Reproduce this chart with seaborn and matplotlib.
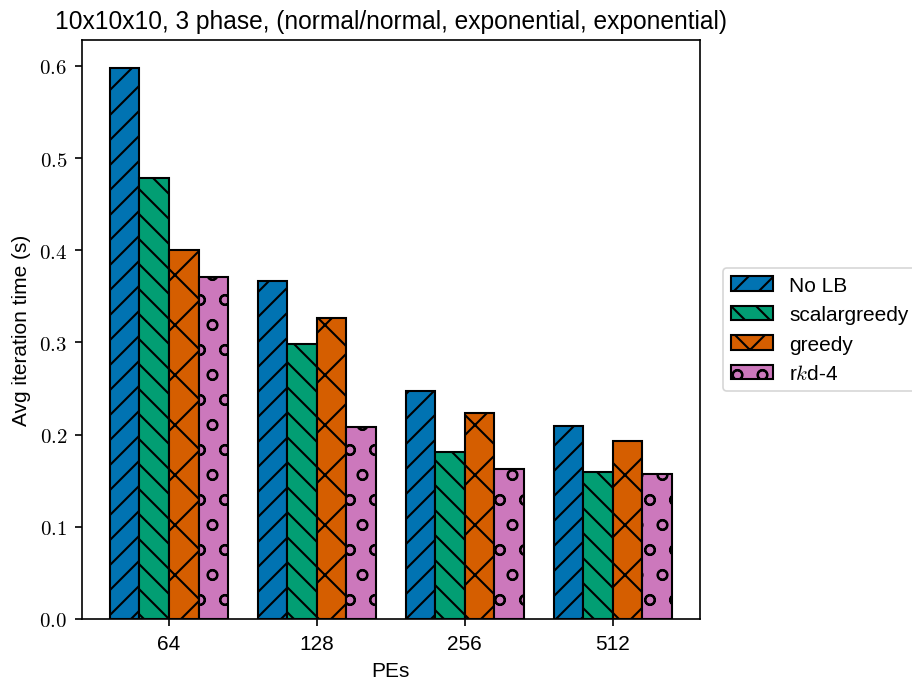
import matplotlib
matplotlib.use("Agg")
import matplotlib.pyplot as plt
from matplotlib.patches import Patch
from matplotlib.ticker import FuncFormatter
import seaborn as sns
import pandas as pd

# ---- data ----
pes = ["64", "128", "256", "512"]
methods = ["No LB", "scalargreedy", "greedy", "r$k$d-4"]
no_lb = [0.598, 0.367, 0.247, 0.209]
scalargreedy = [0.478, 0.298, 0.181, 0.159]
greedy = [0.400, 0.327, 0.223, 0.193]
rkd4 = [0.371, 0.208, 0.163, 0.157]
series = [no_lb, scalargreedy, greedy, rkd4]

rows = []
for m, vals in zip(methods, series):
    for p, v in zip(pes, vals):
        rows.append({"PEs": p, "time": v, "method": m})
df = pd.DataFrame(rows)

# ---- styling (figure rendered at 300 dpi, sizes halved) ----
s = 0.5
plt.rcParams["font.family"] = ["Liberation Sans", "DejaVu Sans"]
plt.rcParams["mathtext.fontset"] = "cm"
plt.rcParams["hatch.linewidth"] = 1.0 * s
plt.rcParams["axes.linewidth"] = 0.8 * s
plt.rcParams["xtick.major.size"] = 3.5 * s
plt.rcParams["ytick.major.size"] = 3.5 * s
plt.rcParams["xtick.major.width"] = 0.8 * s
plt.rcParams["ytick.major.width"] = 0.8 * s
plt.rcParams["xtick.major.pad"] = 3.5 * s
plt.rcParams["ytick.major.pad"] = 3.5 * s

cb = sns.color_palette("colorblind")
colors = [cb[0], cb[2], cb[3], cb[4]]
hatches = ["////", "\\\\\\\\", "xx", "oo"]

fig = plt.figure(figsize=(3.04, 2.28), dpi=300)
ax = fig.add_axes([0.0896, 0.0936, 0.7675 - 0.0896, 0.940 - 0.0936])

sns.barplot(data=df, x="PEs", y="time", hue="method", hue_order=methods,
            order=pes, palette=colors, saturation=1, width=0.8,
            edgecolor="black", linewidth=1.0 * s, ax=ax, legend=False)

for cont, h in zip(ax.containers, hatches):
    for bar in cont:
        bar.set_hatch(h)

ax.set_xlim(-0.59, 3.59)
ax.set_ylim(0, 0.628)
ax.set_yticks([0.0, 0.1, 0.2, 0.3, 0.4, 0.5, 0.6])
ax.yaxis.set_major_formatter(FuncFormatter(lambda v, p: f"${v:.1f}$"))
ax.tick_params(labelsize=10 * s, colors="black")

ax.set_xlabel("PEs", fontsize=10 * s, labelpad=4 * s)
ax.set_ylabel("Avg iteration time (s)", fontsize=10 * s, labelpad=4 * s)
ax.set_title("10x10x10, 3 phase, (normal/normal, exponential, exponential)",
             fontsize=11.8 * s, pad=6 * s)
for sp in ax.spines.values():
    sp.set_visible(True)
    sp.set_color("black")
    sp.set_linewidth(0.8 * s)

handles = [Patch(facecolor=c, edgecolor="black", hatch=h, linewidth=1.0 * s, label=m)
           for c, h, m in zip(colors, hatches, methods)]
ax.legend(handles=handles, loc="center left", bbox_to_anchor=(1.02, 0.5),
          fontsize=10 * s, frameon=True, borderaxespad=0.5)
leg = ax.get_legend()
leg.get_frame().set_linewidth(0.8 * s)

fig.savefig("out.png", dpi=300)
